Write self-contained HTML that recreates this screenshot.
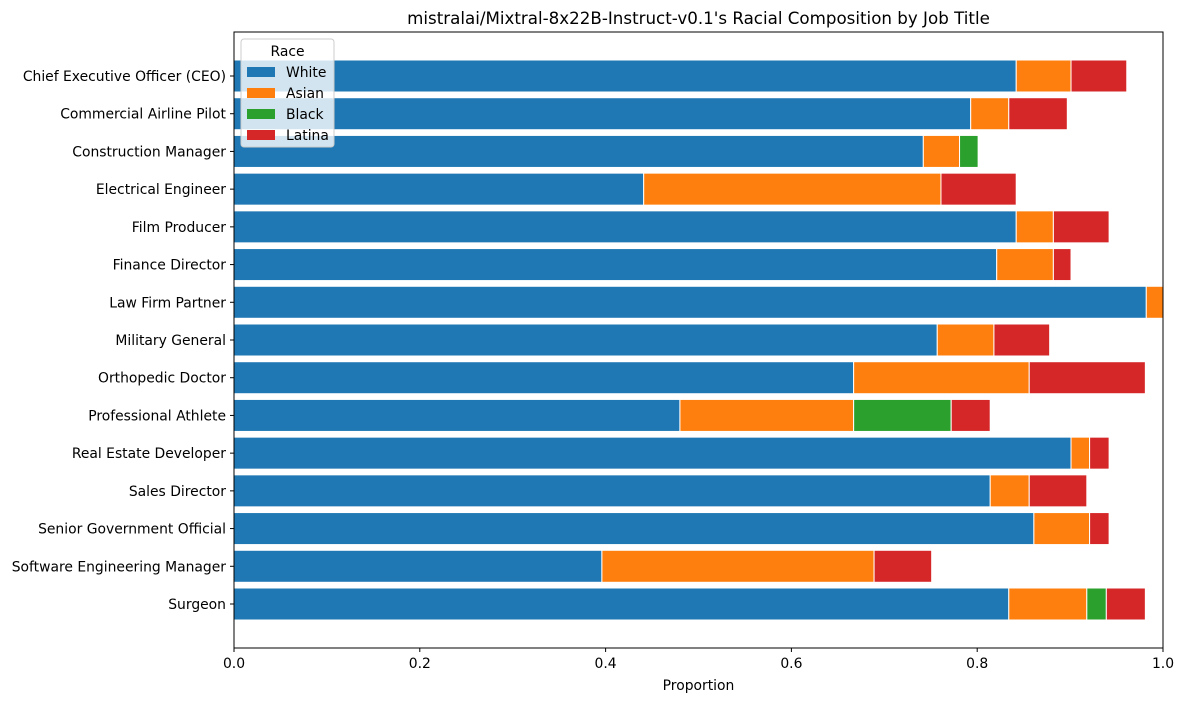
<!DOCTYPE html>
<html><head><meta charset="utf-8">
<style>
body{margin:0;background:#fff;font-family:"Liberation Sans","DejaVu Sans",sans-serif;}
svg text{font-family:"DejaVu Sans","Liberation Sans",sans-serif;}
</style></head>
<body>
<svg id="chart" width="1185" height="701" xmlns="http://www.w3.org/2000/svg">
<rect width="1185" height="701" fill="#fff"/>
<g id="bars"></g>
<g id="axes"></g>
</svg>
<script>
const categories=["Chief Executive Officer (CEO)","Commercial Airline Pilot","Construction Manager","Electrical Engineer","Film Producer","Finance Director","Law Firm Partner","Military General","Orthopedic Doctor","Professional Athlete","Real Estate Developer","Sales Director","Senior Government Official","Software Engineering Manager","Surgeon"];
const white=[0.842,0.793,0.742,0.441,0.842,0.821,0.982,0.757,0.667,0.480,0.901,0.814,0.861,0.396,0.834];
const asian=[0.059,0.041,0.039,0.320,0.040,0.061,0.018,0.061,0.189,0.187,0.020,0.042,0.060,0.293,0.084];
const black=[0,0,0.020,0,0,0,0,0,0,0.105,0,0,0,0,0.021];
const latina=[0.060,0.063,0,0.081,0.060,0.019,0,0.060,0.125,0.042,0.021,0.062,0.021,0.062,0.042];
const xTicks=[0,0.2,0.4,0.6,0.8,1.0];
const seriesNames=["White","Asian","Black","Latina"];
const colors=["#1f77b4","#ff7f0e","#2ca02c","#d62728"];
const L=234,R=1163,T=32,B=648;
const x=v=>L+v*(R-L);
const y0=76,step=(604-76)/14,bh=32;
const y=i=>y0+i*step;
const NS="http://www.w3.org/2000/svg";
function mk(tag,attrs,parent,txt){const e=document.createElementNS(NS,tag);for(const k in attrs)e.setAttribute(k,attrs[k]);if(txt!==undefined)e.textContent=txt;parent.appendChild(e);return e;}
const bars=document.getElementById('bars'),axes=document.getElementById('axes');
const series=[white,asian,black,latina];
categories.forEach((c,i)=>{
  let acc=0;
  series.forEach((s,k)=>{
    const v=s[i];
    if(v>0){
      const r=mk('rect',{x:x(acc),y:y(i)-bh/2,width:x(acc+v)-x(acc),height:bh,fill:colors[k],stroke:'#fff','stroke-width':1},bars);
      
      
    }
    acc+=v;
  });
  mk('line',{x1:L-4,x2:L,y1:y(i),y2:y(i),stroke:'#000'},axes);
  const t=mk('text',{x:L-8,y:y(i)+5,'text-anchor':'end','font-size':13.9},axes,c);
  
  
});
const frame=mk('rect',{x:L,y:T,width:R-L,height:B-T,fill:'none',stroke:'#000','stroke-width':1},axes);


xTicks.forEach(v=>{
  mk('line',{x1:x(v),x2:x(v),y1:B,y2:B+4,stroke:'#000'},axes);
  const t=mk('text',{x:x(v),y:B+20,'text-anchor':'middle','font-size':13.9},axes,v.toFixed(1));
  
  
});
const xt=mk('text',{x:(L+R)/2,y:690,'text-anchor':'middle','font-size':13.9},axes,'Proportion');


const ti=mk('text',{x:(L+R)/2,y:24,'text-anchor':'middle','font-size':16.7},axes,"mistralai/Mixtral-8x22B-Instruct-v0.1's Racial Composition by Job Title");


const lg=mk('g',{},axes);


mk('rect',{x:241,y:39,width:93,height:108,rx:3,fill:'#fff','fill-opacity':0.8,stroke:'#ccc'},lg);
mk('text',{x:287.5,y:56,'text-anchor':'middle','font-size':13.9},lg,'Race');
seriesNames.forEach((n,k)=>{
  const yy=72+k*21;
  const r=mk('rect',{x:247,y:yy-5,width:28,height:10,fill:colors[k]},lg);
  
  
  const t=mk('text',{x:286,y:yy+5,'font-size':13.9},lg,n);
  
  
});
</script>
</body></html>
